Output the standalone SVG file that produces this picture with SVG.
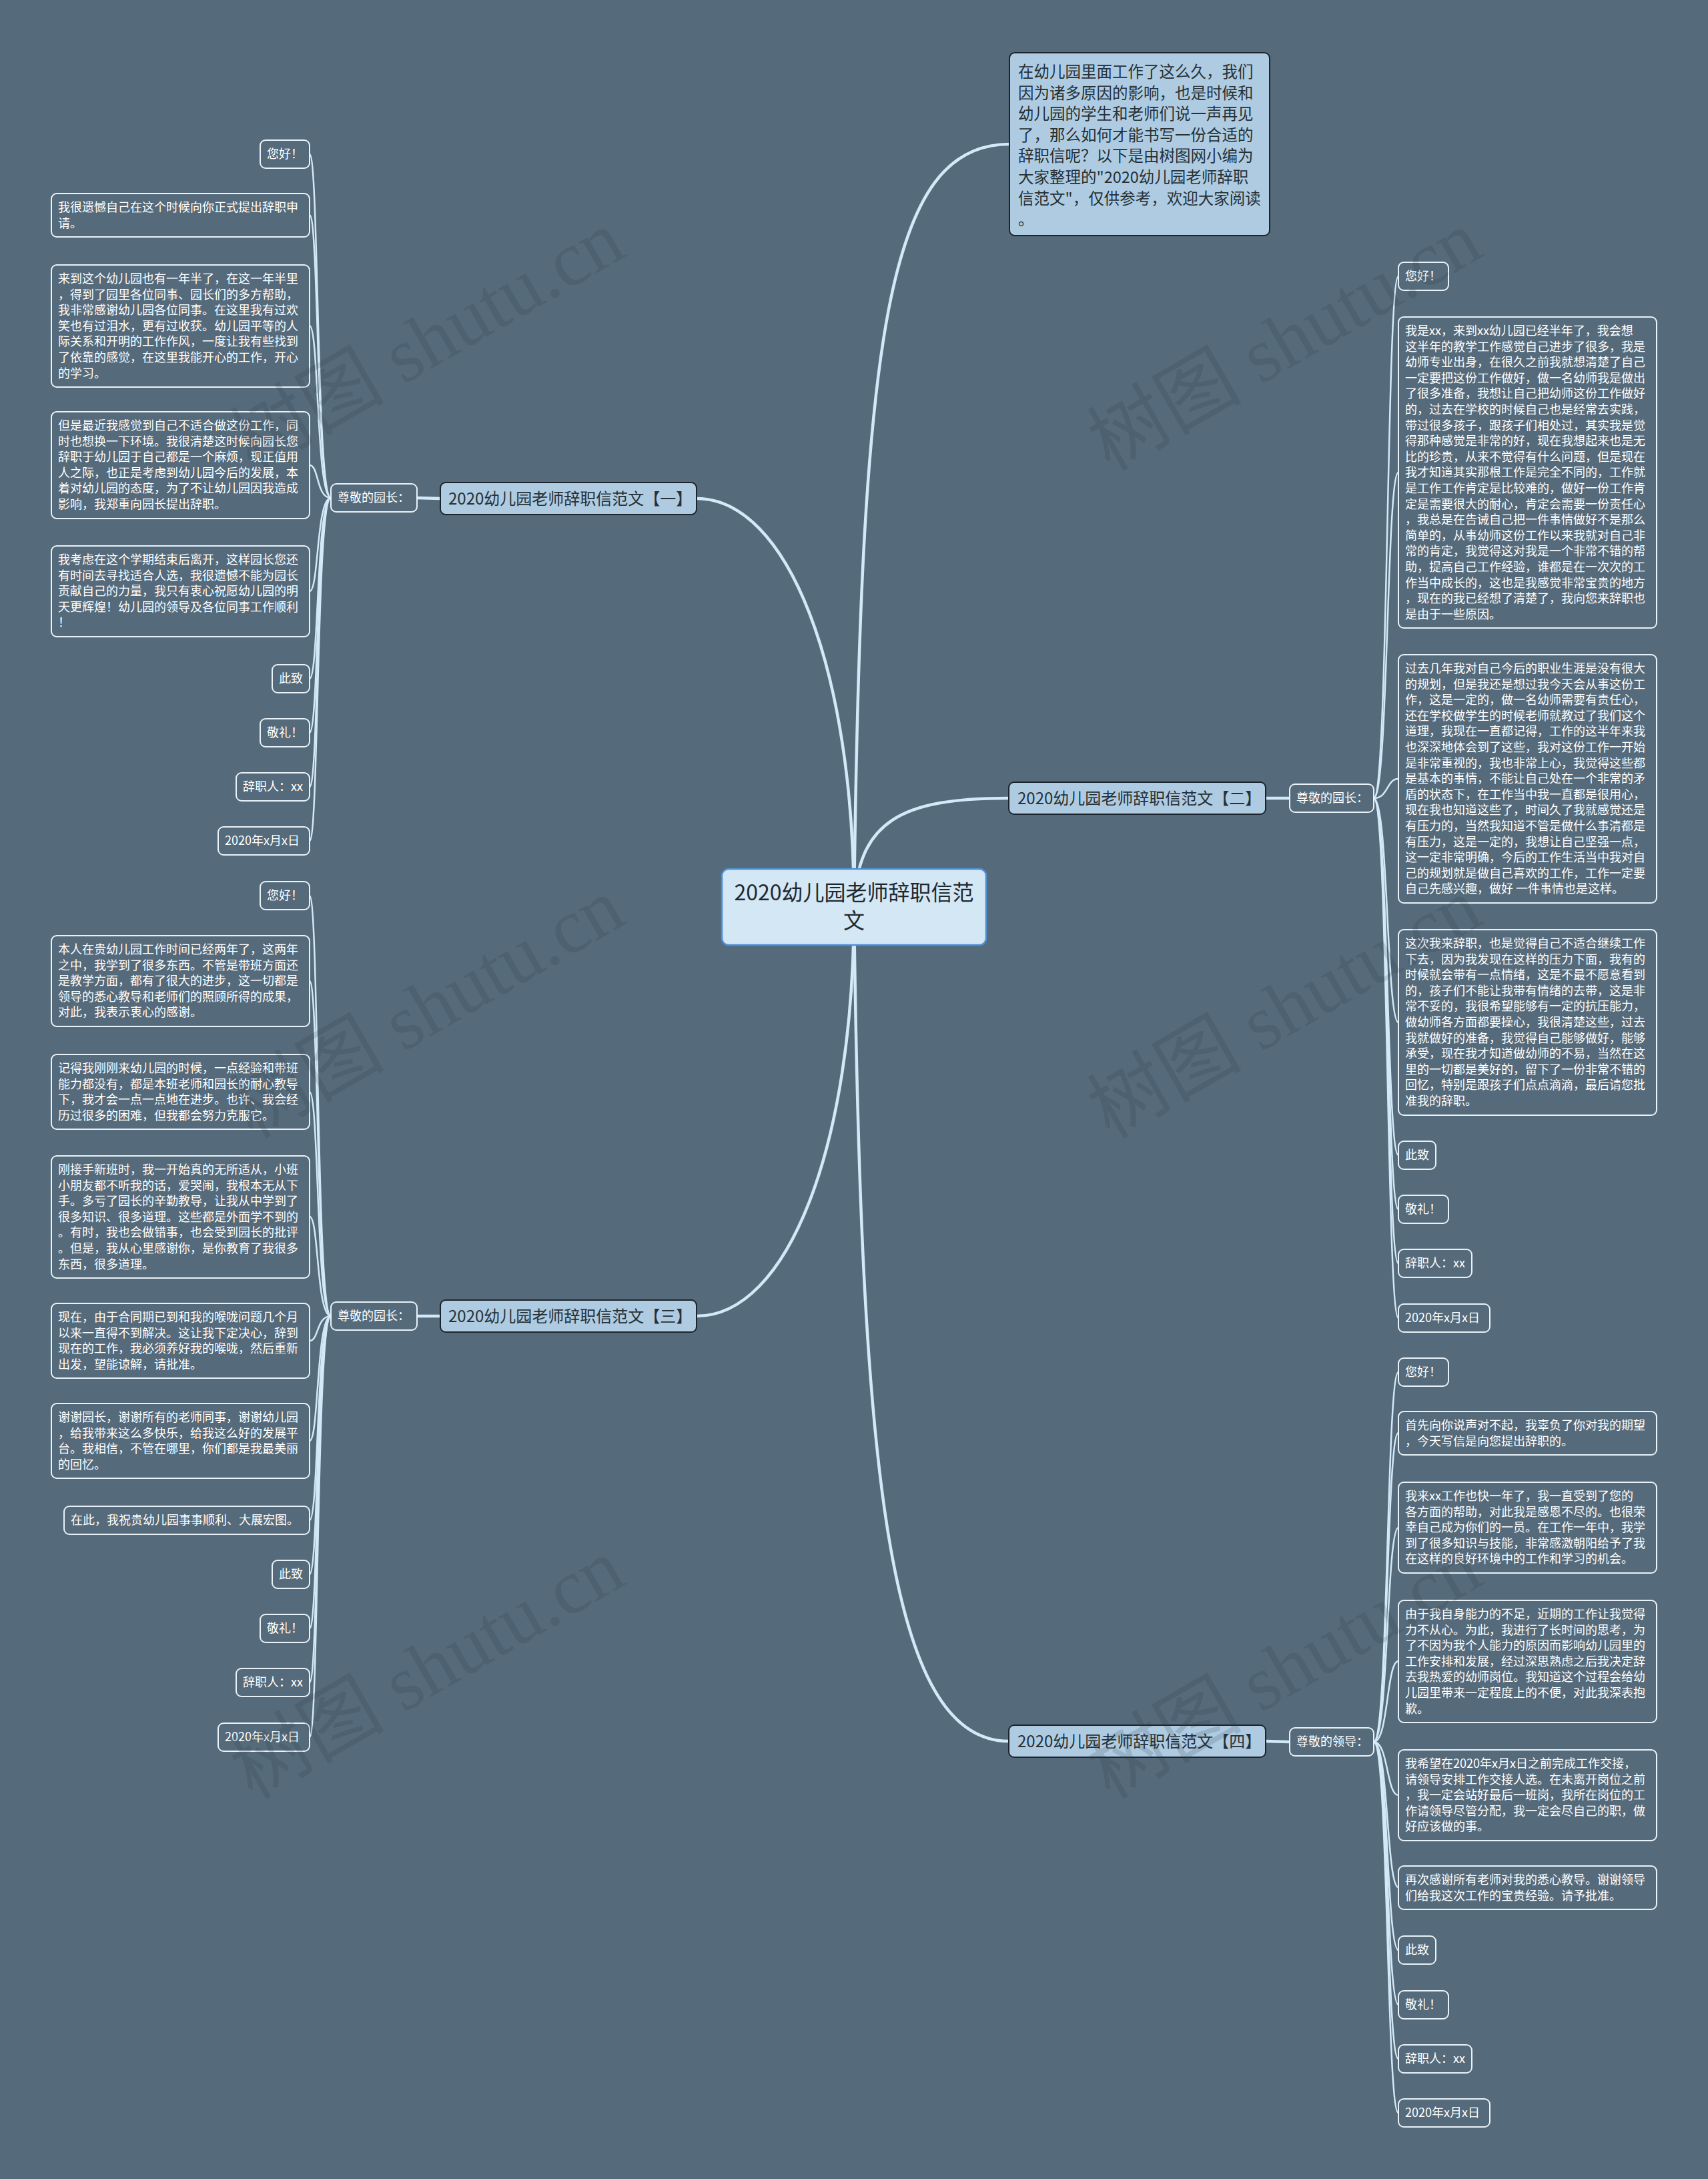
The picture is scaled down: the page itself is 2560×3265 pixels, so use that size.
<svg xmlns="http://www.w3.org/2000/svg" width="2560" height="3265" viewBox="0 0 2560 3265">
<style>
.bg{fill:#556a7a}
.leaf rect{fill:#556a7a;stroke:#e9f2f8;stroke-width:2}
.leaf text{font-family:"Noto Sans CJK SC","Liberation Sans",sans-serif;font-size:18px;fill:#ffffff}
.sub rect{fill:#556a7a;stroke:#e9f2f8;stroke-width:2}
.sub text{font-family:"Noto Sans CJK SC","Liberation Sans",sans-serif;font-size:18px;fill:#ffffff}
.branch rect{fill:#aecbe1;stroke:#1c252d;stroke-width:2}
.branch text{font-family:"Noto Sans CJK SC","Liberation Sans",sans-serif;font-size:24px;fill:#263138}
.intro rect{fill:#aecbe1;stroke:#1c252d;stroke-width:2}
.intro text{font-family:"Noto Sans CJK SC","Liberation Sans",sans-serif;font-size:23.5px;fill:#263138}
.root rect{fill:#d3e7f4;stroke:#4d90d6;stroke-width:2.5}
.root text{font-family:"Noto Sans CJK SC","Liberation Sans",sans-serif;font-size:32px;fill:#1e2830}
.c{fill:none;stroke:#d2e9f7;stroke-linecap:round}
.cm{stroke-width:4.5}
.cl{stroke-width:2.5}
.wm{font-family:"Liberation Serif","Noto Sans CJK SC",serif;font-size:116px;fill:#2c3944;opacity:0.16}
</style>
<rect class="bg" x="0" y="0" width="2560" height="3265"/>

<g id="connectors">
<path class="c cm" d="M1280,1359 C1290,500 1330,216 1513,216"/>
<path class="c cm" d="M1280,1359 C1280,1000 1180,747 1044,747"/>
<path class="c cm" d="M1280,1359 C1285,1230 1350,1196 1512,1196"/>
<path class="c cm" d="M1280,1359 C1280,1720 1180,1972 1044,1972"/>
<path class="c cm" d="M1280,1359 C1290,2200 1330,2609 1512,2609"/>
<path class="c cm" d="M660,747 L625,746"/>
<path class="c cm" d="M660,1972 L625,1972"/>
<path class="c cm" d="M1897,1196 L1933,1196"/>
<path class="c cm" d="M1897,2609 L1933,2610"/>
<path class="c cl" d="M496,746 C474,746 478,231 464,231"/>
<path class="c cl" d="M496,746 C474,746 478,322 464,322"/>
<path class="c cl" d="M496,746 C474,746 478,488 464,488"/>
<path class="c cl" d="M496,746 C474,746 478,697 464,697"/>
<path class="c cl" d="M496,746 C474,746 478,886 464,886"/>
<path class="c cl" d="M496,746 C474,746 478,1017 464,1017"/>
<path class="c cl" d="M496,746 C474,746 478,1098 464,1098"/>
<path class="c cl" d="M496,746 C474,746 478,1179 464,1179"/>
<path class="c cl" d="M496,746 C474,746 478,1260 464,1260"/>
<path class="c cl" d="M496,1972 C474,1972 478,1342 464,1342"/>
<path class="c cl" d="M496,1972 C474,1972 478,1470 464,1470"/>
<path class="c cl" d="M496,1972 C474,1972 478,1636 464,1636"/>
<path class="c cl" d="M496,1972 C474,1972 478,1823 464,1823"/>
<path class="c cl" d="M496,1972 C474,1972 478,2009 464,2009"/>
<path class="c cl" d="M496,1972 C474,1972 478,2159 464,2159"/>
<path class="c cl" d="M496,1972 C474,1972 478,2278 464,2278"/>
<path class="c cl" d="M496,1972 C474,1972 478,2359 464,2359"/>
<path class="c cl" d="M496,1972 C474,1972 478,2440 464,2440"/>
<path class="c cl" d="M496,1972 C474,1972 478,2521 464,2521"/>
<path class="c cl" d="M496,1972 C474,1972 478,2603 464,2603"/>
<path class="c cl" d="M2059,1196 C2081,1196 2078,414 2096,414"/>
<path class="c cl" d="M2059,1196 C2081,1196 2078,708 2096,708"/>
<path class="c cl" d="M2059,1196 C2081,1196 2078,1167 2096,1167"/>
<path class="c cl" d="M2059,1196 C2081,1196 2078,1532 2096,1532"/>
<path class="c cl" d="M2059,1196 C2081,1196 2078,1731 2096,1731"/>
<path class="c cl" d="M2059,1196 C2081,1196 2078,1812 2096,1812"/>
<path class="c cl" d="M2059,1196 C2081,1196 2078,1893 2096,1893"/>
<path class="c cl" d="M2059,1196 C2081,1196 2078,1975 2096,1975"/>
<path class="c cl" d="M2059,2610 C2081,2610 2078,2056 2096,2056"/>
<path class="c cl" d="M2059,2610 C2081,2610 2078,2147 2096,2147"/>
<path class="c cl" d="M2059,2610 C2081,2610 2078,2289 2096,2289"/>
<path class="c cl" d="M2059,2610 C2081,2610 2078,2489 2096,2489"/>
<path class="c cl" d="M2059,2610 C2081,2610 2078,2690 2096,2690"/>
<path class="c cl" d="M2059,2610 C2081,2610 2078,2828 2096,2828"/>
<path class="c cl" d="M2059,2610 C2081,2610 2078,2922 2096,2922"/>
<path class="c cl" d="M2059,2610 C2081,2610 2078,3004 2096,3004"/>
<path class="c cl" d="M2059,2610 C2081,2610 2078,3085 2096,3085"/>
<path class="c cl" d="M2059,2610 C2081,2610 2078,3166 2096,3166"/>
</g>

<g id="root" class="root">
<rect x="1082" y="1302" width="396" height="114" rx="10"/>
<text x="1280" y="1349" text-anchor="middle">2020幼儿园老师辞职信范</text>
<text x="1280" y="1391" text-anchor="middle">文</text>
</g>

<g id="intro" class="intro">
<rect x="1513" y="79" width="390" height="274" rx="8"/>
<text x="1526" y="116"><tspan x="1526">在幼儿园里面工作了这么久，我们</tspan><tspan x="1526" dy="31.6">因为诸多原因的影响，也是时候和</tspan><tspan x="1526" dy="31.6">幼儿园的学生和老师们说一声再见</tspan><tspan x="1526" dy="31.6">了，那么如何才能书写一份合适的</tspan><tspan x="1526" dy="31.6">辞职信呢？以下是由树图网小编为</tspan><tspan x="1526" dy="31.6">大家整理的"2020幼儿园老师辞职</tspan><tspan x="1526" dy="31.6">信范文"，仅供参考，欢迎大家阅读</tspan><tspan x="1526" dy="31.6">。</tspan></text>
</g>

<g id="b1" class="branch"><rect x="660" y="723" width="384" height="48" rx="8"/><text x="672" y="756">2020幼儿园老师辞职信范文【一】</text></g>
<g id="b2" class="branch"><rect x="1512" y="1172" width="385" height="48" rx="8"/><text x="1525" y="1205">2020幼儿园老师辞职信范文【二】</text></g>
<g id="b3" class="branch"><rect x="660" y="1948" width="384" height="48" rx="8"/><text x="672" y="1981">2020幼儿园老师辞职信范文【三】</text></g>
<g id="b4" class="branch"><rect x="1512" y="2585" width="385" height="48" rx="8"/><text x="1525" y="2618">2020幼儿园老师辞职信范文【四】</text></g>

<g id="s1" class="sub"><rect x="496" y="725" width="129" height="42" rx="8"/><text x="506" y="752">尊敬的园长：</text></g>
<g id="s2" class="sub"><rect x="1933" y="1175" width="126" height="42" rx="8"/><text x="1943" y="1202">尊敬的园长：</text></g>
<g id="s3" class="sub"><rect x="496" y="1951" width="129" height="42" rx="8"/><text x="506" y="1978">尊敬的园长：</text></g>
<g id="s4" class="sub"><rect x="1933" y="2589" width="126" height="42" rx="8"/><text x="1943" y="2616">尊敬的领导：</text></g>

<g id="l1-1" class="leaf"><rect x="390" y="210" width="74" height="42" rx="8"/><text x="400" y="237">您好！</text></g>
<g id="l1-2" class="leaf"><rect x="77" y="290" width="387" height="65" rx="8"/><text x="87" y="317"><tspan x="87">我很遗憾自己在这个时候向你正式提出辞职申</tspan><tspan x="87" dy="23.6">请。</tspan></text></g>
<g id="l1-3" class="leaf"><rect x="77" y="397" width="387" height="183" rx="8"/><text x="87" y="424"><tspan x="87">来到这个幼儿园也有一年半了，在这一年半里</tspan><tspan x="87" dy="23.6">，得到了园里各位同事、园长们的多方帮助，</tspan><tspan x="87" dy="23.6">我非常感谢幼儿园各位同事。在这里我有过欢</tspan><tspan x="87" dy="23.6">笑也有过泪水，更有过收获。幼儿园平等的人</tspan><tspan x="87" dy="23.6">际关系和开明的工作作风，一度让我有些找到</tspan><tspan x="87" dy="23.6">了依靠的感觉，在这里我能开心的工作，开心</tspan><tspan x="87" dy="23.6">的学习。</tspan></text></g>
<g id="l1-4" class="leaf"><rect x="77" y="617" width="387" height="160" rx="8"/><text x="87" y="644"><tspan x="87">但是最近我感觉到自己不适合做这份工作，同</tspan><tspan x="87" dy="23.6">时也想换一下环境。我很清楚这时候向园长您</tspan><tspan x="87" dy="23.6">辞职于幼儿园于自己都是一个麻烦，现正值用</tspan><tspan x="87" dy="23.6">人之际，也正是考虑到幼儿园今后的发展，本</tspan><tspan x="87" dy="23.6">着对幼儿园的态度，为了不让幼儿园因我造成</tspan><tspan x="87" dy="23.6">影响，我郑重向园长提出辞职。</tspan></text></g>
<g id="l1-5" class="leaf"><rect x="77" y="818" width="387" height="136" rx="8"/><text x="87" y="845"><tspan x="87">我考虑在这个学期结束后离开，这样园长您还</tspan><tspan x="87" dy="23.6">有时间去寻找适合人选，我很遗憾不能为园长</tspan><tspan x="87" dy="23.6">贡献自己的力量，我只有衷心祝愿幼儿园的明</tspan><tspan x="87" dy="23.6">天更辉煌！幼儿园的领导及各位同事工作顺利</tspan><tspan x="87" dy="23.6">！</tspan></text></g>
<g id="l1-6" class="leaf"><rect x="408" y="996" width="56" height="42" rx="8"/><text x="418" y="1023">此致</text></g>
<g id="l1-7" class="leaf"><rect x="390" y="1077" width="74" height="42" rx="8"/><text x="400" y="1104">敬礼！</text></g>
<g id="l1-8" class="leaf"><rect x="354" y="1158" width="110" height="42" rx="8"/><text x="364" y="1185">辞职人：xx</text></g>
<g id="l1-9" class="leaf"><rect x="327" y="1239" width="137" height="42" rx="8"/><text x="337" y="1266">2020年x月x日</text></g>

<g id="l3-1" class="leaf"><rect x="390" y="1321" width="74" height="42" rx="8"/><text x="400" y="1348">您好！</text></g>
<g id="l3-2" class="leaf"><rect x="77" y="1402" width="387" height="136" rx="8"/><text x="87" y="1429"><tspan x="87">本人在贵幼儿园工作时间已经两年了，这两年</tspan><tspan x="87" dy="23.6">之中，我学到了很多东西。不管是带班方面还</tspan><tspan x="87" dy="23.6">是教学方面，都有了很大的进步，这一切都是</tspan><tspan x="87" dy="23.6">领导的悉心教导和老师们的照顾所得的成果，</tspan><tspan x="87" dy="23.6">对此，我表示衷心的感谢。</tspan></text></g>
<g id="l3-3" class="leaf"><rect x="77" y="1580" width="387" height="112" rx="8"/><text x="87" y="1607"><tspan x="87">记得我刚刚来幼儿园的时候，一点经验和带班</tspan><tspan x="87" dy="23.6">能力都没有，都是本班老师和园长的耐心教导</tspan><tspan x="87" dy="23.6">下，我才会一点一点地在进步。也许、我会经</tspan><tspan x="87" dy="23.6">历过很多的困难，但我都会努力克服它。</tspan></text></g>
<g id="l3-4" class="leaf"><rect x="77" y="1732" width="387" height="183" rx="8"/><text x="87" y="1759"><tspan x="87">刚接手新班时，我一开始真的无所适从，小班</tspan><tspan x="87" dy="23.6">小朋友都不听我的话，爱哭闹，我根本无从下</tspan><tspan x="87" dy="23.6">手。多亏了园长的辛勤教导，让我从中学到了</tspan><tspan x="87" dy="23.6">很多知识、很多道理。这些都是外面学不到的</tspan><tspan x="87" dy="23.6">。有时，我也会做错事，也会受到园长的批评</tspan><tspan x="87" dy="23.6">。但是，我从心里感谢你，是你教育了我很多</tspan><tspan x="87" dy="23.6">东西，很多道理。</tspan></text></g>
<g id="l3-5" class="leaf"><rect x="77" y="1953" width="387" height="112" rx="8"/><text x="87" y="1980"><tspan x="87">现在，由于合同期已到和我的喉咙问题几个月</tspan><tspan x="87" dy="23.6">以来一直得不到解决。这让我下定决心，辞到</tspan><tspan x="87" dy="23.6">现在的工作，我必须养好我的喉咙，然后重新</tspan><tspan x="87" dy="23.6">出发，望能谅解，请批准。</tspan></text></g>
<g id="l3-6" class="leaf"><rect x="77" y="2103" width="387" height="112" rx="8"/><text x="87" y="2130"><tspan x="87">谢谢园长，谢谢所有的老师同事，谢谢幼儿园</tspan><tspan x="87" dy="23.6">，给我带来这么多快乐，给我这么好的发展平</tspan><tspan x="87" dy="23.6">台。我相信，不管在哪里，你们都是我最美丽</tspan><tspan x="87" dy="23.6">的回忆。</tspan></text></g>
<g id="l3-7" class="leaf"><rect x="96" y="2257" width="368" height="42" rx="8"/><text x="106" y="2284">在此，我祝贵幼儿园事事顺利、大展宏图。</text></g>
<g id="l3-8" class="leaf"><rect x="408" y="2338" width="56" height="42" rx="8"/><text x="418" y="2365">此致</text></g>
<g id="l3-9" class="leaf"><rect x="390" y="2419" width="74" height="42" rx="8"/><text x="400" y="2446">敬礼！</text></g>
<g id="l3-10" class="leaf"><rect x="354" y="2500" width="110" height="42" rx="8"/><text x="364" y="2527">辞职人：xx</text></g>
<g id="l3-11" class="leaf"><rect x="327" y="2582" width="137" height="42" rx="8"/><text x="337" y="2609">2020年x月x日</text></g>

<g id="r2-1" class="leaf"><rect x="2096" y="393" width="75" height="42" rx="8"/><text x="2106" y="420">您好！</text></g>
<g id="r2-2" class="leaf"><rect x="2096" y="475" width="387" height="466" rx="8"/><text x="2106" y="502"><tspan x="2106">我是xx，来到xx幼儿园已经半年了，我会想</tspan><tspan x="2106" dy="23.6">这半年的教学工作感觉自己进步了很多，我是</tspan><tspan x="2106" dy="23.6">幼师专业出身，在很久之前我就想清楚了自己</tspan><tspan x="2106" dy="23.6">一定要把这份工作做好，做一名幼师我是做出</tspan><tspan x="2106" dy="23.6">了很多准备，我想让自己把幼师这份工作做好</tspan><tspan x="2106" dy="23.6">的，过去在学校的时候自己也是经常去实践，</tspan><tspan x="2106" dy="23.6">带过很多孩子，跟孩子们相处过，其实我是觉</tspan><tspan x="2106" dy="23.6">得那种感觉是非常的好，现在我想起来也是无</tspan><tspan x="2106" dy="23.6">比的珍贵，从来不觉得有什么问题，但是现在</tspan><tspan x="2106" dy="23.6">我才知道其实那根工作是完全不同的，工作就</tspan><tspan x="2106" dy="23.6">是工作工作肯定是比较难的，做好一份工作肯</tspan><tspan x="2106" dy="23.6">定是需要很大的耐心，肯定会需要一份责任心</tspan><tspan x="2106" dy="23.6">，我总是在告诫自己把一件事情做好不是那么</tspan><tspan x="2106" dy="23.6">简单的，从事幼师这份工作以来我就对自己非</tspan><tspan x="2106" dy="23.6">常的肯定，我觉得这对我是一个非常不错的帮</tspan><tspan x="2106" dy="23.6">助，提高自己工作经验，谁都是在一次次的工</tspan><tspan x="2106" dy="23.6">作当中成长的，这也是我感觉非常宝贵的地方</tspan><tspan x="2106" dy="23.6">，现在的我已经想了清楚了，我向您来辞职也</tspan><tspan x="2106" dy="23.6">是由于一些原因。</tspan></text></g>
<g id="r2-3" class="leaf"><rect x="2096" y="981" width="387" height="372" rx="8"/><text x="2106" y="1008"><tspan x="2106">过去几年我对自己今后的职业生涯是没有很大</tspan><tspan x="2106" dy="23.6">的规划，但是我还是想过我今天会从事这份工</tspan><tspan x="2106" dy="23.6">作，这是一定的，做一名幼师需要有责任心，</tspan><tspan x="2106" dy="23.6">还在学校做学生的时候老师就教过了我们这个</tspan><tspan x="2106" dy="23.6">道理，我现在一直都记得，工作的这半年来我</tspan><tspan x="2106" dy="23.6">也深深地体会到了这些，我对这份工作一开始</tspan><tspan x="2106" dy="23.6">是非常重视的，我也非常上心，我觉得这些都</tspan><tspan x="2106" dy="23.6">是基本的事情，不能让自己处在一个非常的矛</tspan><tspan x="2106" dy="23.6">盾的状态下，在工作当中我一直都是很用心，</tspan><tspan x="2106" dy="23.6">现在我也知道这些了，时间久了我就感觉还是</tspan><tspan x="2106" dy="23.6">有压力的，当然我知道不管是做什么事清都是</tspan><tspan x="2106" dy="23.6">有压力，这是一定的，我想让自己坚强一点，</tspan><tspan x="2106" dy="23.6">这一定非常明确，今后的工作生活当中我对自</tspan><tspan x="2106" dy="23.6">己的规划就是做自己喜欢的工作，工作一定要</tspan><tspan x="2106" dy="23.6">自己先感兴趣，做好 一件事情也是这样。</tspan></text></g>
<g id="r2-4" class="leaf"><rect x="2096" y="1393" width="387" height="278" rx="8"/><text x="2106" y="1420"><tspan x="2106">这次我来辞职，也是觉得自己不适合继续工作</tspan><tspan x="2106" dy="23.6">下去，因为我发现在这样的压力下面，我有的</tspan><tspan x="2106" dy="23.6">时候就会带有一点情绪，这是不最不愿意看到</tspan><tspan x="2106" dy="23.6">的，孩子们不能让我带有情绪的去带，这是非</tspan><tspan x="2106" dy="23.6">常不妥的，我很希望能够有一定的抗压能力，</tspan><tspan x="2106" dy="23.6">做幼师各方面都要操心，我很清楚这些，过去</tspan><tspan x="2106" dy="23.6">我就做好的准备，我觉得自己能够做好，能够</tspan><tspan x="2106" dy="23.6">承受，现在我才知道做幼师的不易，当然在这</tspan><tspan x="2106" dy="23.6">里的一切都是美好的，留下了一份非常不错的</tspan><tspan x="2106" dy="23.6">回忆，特别是跟孩子们点点滴滴，最后请您批</tspan><tspan x="2106" dy="23.6">准我的辞职。</tspan></text></g>
<g id="r2-5" class="leaf"><rect x="2096" y="1710" width="56" height="42" rx="8"/><text x="2106" y="1737">此致</text></g>
<g id="r2-6" class="leaf"><rect x="2096" y="1791" width="75" height="42" rx="8"/><text x="2106" y="1818">敬礼！</text></g>
<g id="r2-7" class="leaf"><rect x="2096" y="1872" width="110" height="42" rx="8"/><text x="2106" y="1899">辞职人：xx</text></g>
<g id="r2-8" class="leaf"><rect x="2096" y="1954" width="137" height="42" rx="8"/><text x="2106" y="1981">2020年x月x日</text></g>

<g id="r4-1" class="leaf"><rect x="2096" y="2035" width="75" height="42" rx="8"/><text x="2106" y="2062">您好！</text></g>
<g id="r4-2" class="leaf"><rect x="2096" y="2115" width="387" height="65" rx="8"/><text x="2106" y="2142"><tspan x="2106">首先向你说声对不起，我辜负了你对我的期望</tspan><tspan x="2106" dy="23.6">，今天写信是向您提出辞职的。</tspan></text></g>
<g id="r4-3" class="leaf"><rect x="2096" y="2221" width="387" height="136" rx="8"/><text x="2106" y="2248"><tspan x="2106">我来xx工作也快一年了，我一直受到了您的</tspan><tspan x="2106" dy="23.6">各方面的帮助，对此我是感恩不尽的。也很荣</tspan><tspan x="2106" dy="23.6">幸自己成为你们的一员。在工作一年中，我学</tspan><tspan x="2106" dy="23.6">到了很多知识与技能，非常感激朝阳给予了我</tspan><tspan x="2106" dy="23.6">在这样的良好环境中的工作和学习的机会。</tspan></text></g>
<g id="r4-4" class="leaf"><rect x="2096" y="2398" width="387" height="183" rx="8"/><text x="2106" y="2425"><tspan x="2106">由于我自身能力的不足，近期的工作让我觉得</tspan><tspan x="2106" dy="23.6">力不从心。为此，我进行了长时间的思考，为</tspan><tspan x="2106" dy="23.6">了不因为我个人能力的原因而影响幼儿园里的</tspan><tspan x="2106" dy="23.6">工作安排和发展，经过深思熟虑之后我决定辞</tspan><tspan x="2106" dy="23.6">去我热爱的幼师岗位。我知道这个过程会给幼</tspan><tspan x="2106" dy="23.6">儿园里带来一定程度上的不便，对此我深表抱</tspan><tspan x="2106" dy="23.6">歉。</tspan></text></g>
<g id="r4-5" class="leaf"><rect x="2096" y="2622" width="387" height="136" rx="8"/><text x="2106" y="2649"><tspan x="2106">我希望在2020年x月x日之前完成工作交接，</tspan><tspan x="2106" dy="23.6">请领导安排工作交接人选。在未离开岗位之前</tspan><tspan x="2106" dy="23.6">，我一定会站好最后一班岗，我所在岗位的工</tspan><tspan x="2106" dy="23.6">作请领导尽管分配，我一定会尽自己的职，做</tspan><tspan x="2106" dy="23.6">好应该做的事。</tspan></text></g>
<g id="r4-6" class="leaf"><rect x="2096" y="2796" width="387" height="65" rx="8"/><text x="2106" y="2823"><tspan x="2106">再次感谢所有老师对我的悉心教导。谢谢领导</tspan><tspan x="2106" dy="23.6">们给我这次工作的宝贵经验。请予批准。</tspan></text></g>
<g id="r4-7" class="leaf"><rect x="2096" y="2901" width="56" height="42" rx="8"/><text x="2106" y="2928">此致</text></g>
<g id="r4-8" class="leaf"><rect x="2096" y="2983" width="75" height="42" rx="8"/><text x="2106" y="3010">敬礼！</text></g>
<g id="r4-9" class="leaf"><rect x="2096" y="3064" width="110" height="42" rx="8"/><text x="2106" y="3091">辞职人：xx</text></g>
<g id="r4-10" class="leaf"><rect x="2096" y="3145" width="137" height="42" rx="8"/><text x="2106" y="3172">2020年x月x日</text></g>

<g id="watermarks">
<text class="wm" x="640" y="550" text-anchor="middle" transform="rotate(-30 640 510)">树图 shutu.cn</text>
<text class="wm" x="640" y="1550" text-anchor="middle" transform="rotate(-30 640 1510)">树图 shutu.cn</text>
<text class="wm" x="640" y="2540" text-anchor="middle" transform="rotate(-30 640 2500)">树图 shutu.cn</text>
<text class="wm" x="1925" y="550" text-anchor="middle" transform="rotate(-30 1925 510)">树图 shutu.cn</text>
<text class="wm" x="1925" y="1550" text-anchor="middle" transform="rotate(-30 1925 1510)">树图 shutu.cn</text>
<text class="wm" x="1925" y="2540" text-anchor="middle" transform="rotate(-30 1925 2500)">树图 shutu.cn</text>
</g>
</svg>
